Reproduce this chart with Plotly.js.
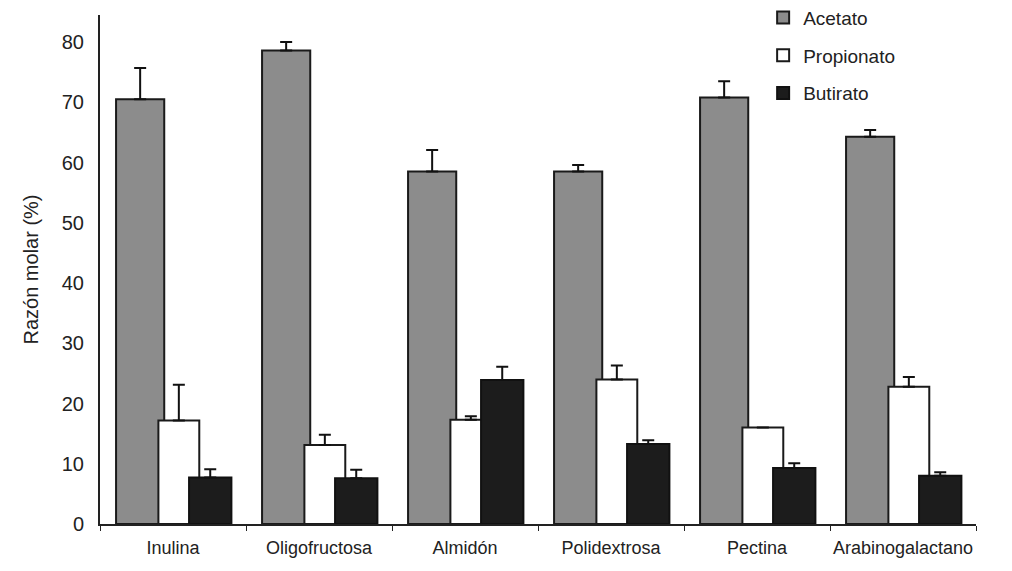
<!DOCTYPE html>
<html>
<head>
<meta charset="utf-8">
<script src="https://cdn.plot.ly/plotly-3.0.1.min.js"></script>
<style>html,body{margin:0;padding:0;background:#fff;}#chart{width:1012px;height:571px;}</style>
</head>
<body>
<div id="chart"></div>
<script>
const categories = ["Inulina", "Oligofructosa", "Almidón", "Polidextrosa", "Pectina", "Arabinogalactano"];
const acetato = [70.5, 78.6, 58.5, 58.5, 70.8, 64.3];
const acetatoErr = [5.2, 1.4, 3.6, 1.1, 2.7, 1.1];
const propionato = [17.2, 13.1, 17.3, 24.0, 16.0, 22.8];
const propionatoErr = [5.9, 1.7, 0.6, 2.3, 0, 1.6];
const butirato = [7.7, 7.6, 23.9, 13.3, 9.3, 8.0];
const butiratoErr = [1.4, 1.4, 2.2, 0.6, 0.8, 0.6];
const seriesNames = ["Acetato", "Propionato", "Butirato"];
const yTicks = [0, 10, 20, 30, 40, 50, 60, 70, 80];

const font = "Liberation Sans Narrow, Arial Narrow, Liberation Sans, Arial, sans-serif";
function err(arr){
  return {type: "data", symmetric: false, array: arr, arrayminus: arr.map(() => 0),
          color: "#111", thickness: 2, width: 6};
}
const traces = [
  {type: "bar", name: seriesNames[0], x: categories, y: acetato, error_y: err(acetatoErr),
   width: 0.33, offset: -0.39, legendgroup: "a",
   marker: {color: "#8c8c8c", line: {color: "#1a1a1a", width: 2}}},
  {type: "bar", name: seriesNames[1], x: categories, y: propionato, error_y: err(propionatoErr),
   width: 0.28, offset: -0.1, legendgroup: "b",
   marker: {color: "#ffffff", line: {color: "#1a1a1a", width: 2}}},
  {type: "bar", name: seriesNames[2], x: categories, y: butirato, error_y: err(butiratoErr),
   width: 0.29, offset: 0.11, legendgroup: "c",
   marker: {color: "#1c1c1c", line: {color: "#111", width: 2}}}
];
const layout = {
  width: 1012, height: 571,
  margin: {l: 100, r: 36, t: 15, b: 47, autoexpand: false},
  paper_bgcolor: "#fff", plot_bgcolor: "#fff",
  font: {family: font, color: "#222"},
  showlegend: true,
  legend: {x: 0.757, y: 1.032, xanchor: "left", yanchor: "top",
           font: {size: 19, family: font, color: "#222"},
           traceorder: "grouped", tracegroupgap: 10, bgcolor: "rgba(0,0,0,0)",
           itemwidth: 30},
  xaxis: {type: "category", range: [-0.5, 5.5], showline: true, linecolor: "#222", linewidth: 2,
          ticks: "outside", tickson: "boundaries", ticklen: 5, tickcolor: "#222", tickangle: 0,
          ticklabelstandoff: 6,
          tickfont: {size: 18, family: font, color: "#222"}, showgrid: false, zeroline: false},
  yaxis: {range: [0, 84.5], tickvals: yTicks, ticktext: yTicks.map(String),
          showline: true, linecolor: "#222", linewidth: 2, ticks: "", ticklabelstandoff: 10,
          tickfont: {size: 20, family: font, color: "#222"}, showgrid: false, zeroline: false,
          title: {text: "Razón molar (%)", font: {size: 20, family: font, color: "#222"}, standoff: 18}}
};
Plotly.newPlot("chart", traces, layout, {displayModeBar: false, staticPlot: true});
</script>
</body>
</html>
